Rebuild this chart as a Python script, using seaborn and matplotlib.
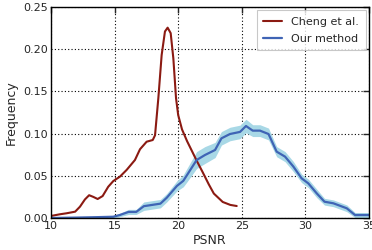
import numpy as np
import pandas as pd
import seaborn as sns
import matplotlib.pyplot as plt

# Cheng et al. curve (PSNR, frequency)
cheng_x = [10.0, 10.7, 11.23, 11.9, 12.28, 12.67, 13.0, 13.33, 13.67, 14.06, 14.5, 14.9, 15.42,
           15.95, 16.6, 17.0, 17.52, 18.0, 18.18, 18.44, 18.7, 18.96, 19.17, 19.41, 19.62,
           19.83, 20.0, 20.3, 20.7, 21.06, 21.45, 21.9, 22.4, 22.8, 23.5, 24.1, 24.6]
cheng_y = [0.0024, 0.0044, 0.0056, 0.0075, 0.0134, 0.022, 0.027, 0.025, 0.0225, 0.026, 0.037,
           0.0438, 0.049, 0.057, 0.0687, 0.0815, 0.0904, 0.0924, 0.098, 0.142, 0.193, 0.221,
           0.2255, 0.219, 0.189, 0.142, 0.122, 0.105, 0.091, 0.080, 0.068, 0.055, 0.040,
           0.029, 0.019, 0.0155, 0.0142]

# Our method mean and band half-width
ours_x = [10.0, 12.0, 13.6, 14.9, 15.4, 16.1, 16.7, 17.3, 18.6, 19.1, 19.9, 20.4, 20.7, 21.45,
          22.1, 22.9, 23.4, 24.07, 24.86, 25.33, 25.86, 26.43, 27.1, 27.74, 28.4, 29.05,
          29.7, 30.23, 30.9, 31.5, 32.2, 33.25, 33.9, 35.0]
ours_y = [0.0, 0.0005, 0.001, 0.0015, 0.0035, 0.0072, 0.0072, 0.014, 0.017, 0.024, 0.038, 0.044,
          0.051, 0.0687, 0.0746, 0.0806, 0.0944, 0.0995, 0.102, 0.109, 0.1035, 0.1035,
          0.0995, 0.0786, 0.0727, 0.061, 0.047, 0.041, 0.029, 0.0193, 0.0174, 0.0115,
          0.0035, 0.0035]
ours_err = [0.0005, 0.0005, 0.001, 0.0015, 0.002, 0.003, 0.003, 0.005, 0.005, 0.005, 0.006, 0.007,
            0.008, 0.010, 0.010, 0.009, 0.008, 0.008, 0.008, 0.008, 0.007, 0.007,
            0.007, 0.006, 0.006, 0.006, 0.005, 0.005, 0.005, 0.004, 0.004, 0.004,
            0.003, 0.003]

df_c = pd.DataFrame({'PSNR': cheng_x, 'Frequency': cheng_y})
df_o = pd.DataFrame({'PSNR': ours_x, 'Frequency': ours_y, 'err': ours_err})

sns.set_style('white')
plt.rcParams['font.family'] = ['DejaVu Sans']

fig, ax = plt.subplots(figsize=(3.72, 2.5), dpi=100)
fig.subplots_adjust(left=0.137, right=0.992, top=0.972, bottom=0.128)

ax.fill_between(df_o['PSNR'], df_o['Frequency'] - df_o['err'], df_o['Frequency'] + df_o['err'],
                color='#a8d8e6', linewidth=0)
sns.lineplot(data=df_c, x='PSNR', y='Frequency', ax=ax, color='#8b1a12', linewidth=1.5,
             label='Cheng et al.')
sns.lineplot(data=df_o, x='PSNR', y='Frequency', ax=ax, color='#3f64b5', linewidth=1.6,
             label='Our method')

ax.set_xlim(10, 35)
ax.set_ylim(0, 0.25)
ax.set_xticks([10, 15, 20, 25, 30, 35])
ax.set_yticks([0, 0.05, 0.10, 0.15, 0.20, 0.25])
ax.set_yticklabels(['0.00', '0.05', '0.10', '0.15', '0.20', '0.25'])
ax.grid(True, color='black', linestyle=(0, (1, 2)), linewidth=0.8)
for s in ax.spines.values():
    s.set_color('black')
    s.set_linewidth(1.0)
ax.tick_params(direction='in', length=4, width=1, top=True, right=True, labelsize=8, pad=2)
ax.set_xlabel('PSNR', fontsize=9, labelpad=2)
ax.set_ylabel('Frequency', fontsize=9, labelpad=4)

leg = ax.legend(loc='upper right', fontsize=8, frameon=True, fancybox=False,
                handlelength=1.7, borderaxespad=0.3, borderpad=0.6, labelspacing=0.6)
leg.get_frame().set_edgecolor('#bbbbbb')
leg.get_frame().set_linewidth(0.8)

plt.savefig('out.png', dpi=100)
